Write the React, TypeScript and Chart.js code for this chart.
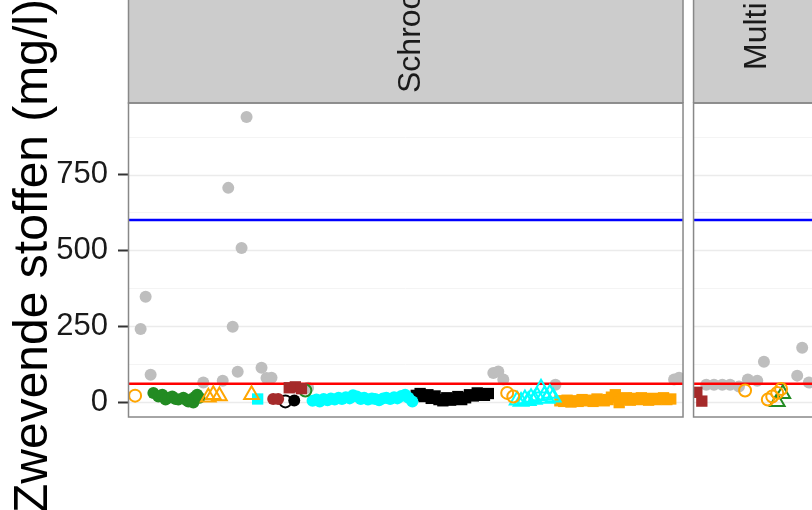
import React, { useEffect, useRef } from "react";
import { Chart, registerables } from "chart.js";
Chart.register(...registerables);

const FONT = "'Liberation Sans', Arial, Helvetica, sans-serif";

const yTitle = "Zwevende stoffen (mg/l)";
const panelNames = ["Schroot", "Multi"];
const yGridValues = [0, 125, 250, 375, 500, 625, 750, 875];
const yLabelValues = [0, 250, 500, 750];
const limitValues = [600, 60];
const limitColors = ["#0000FF", "#FF0000"];

// colours used by the groups
const GREY = "#BEBEBE";
const GREEN = "#228B22";
const ORANGE = "#FFA500";
const CYAN = "#00FFFF";
const BROWN = "#A52A2A";
const BLACK = "#000000";

// ---- Panel 1 (Schroot): position inside the panel (0-100) and value (mg/l)
const p1GreyX = [2.1, 3.0, 3.9, 13.4, 16.9, 17.9, 18.7, 19.6, 20.3, 21.2, 23.9, 24.8, 25.7, 32.3, 65.7, 66.6, 67.5, 76.9, 98.3, 99.2];
const p1GreyY = [241, 347, 90, 64, 70, 706, 248, 100, 508, 940, 113, 79, 80, 47, 96, 101, 74, 57, 74, 80];

const p1OrangeCircleX = [1.1, 68.2, 69.3];
const p1OrangeCircleY = [21, 30, 18];

const p1OrangeTriangleX = [14.3, 15.2, 16.3, 22.1];
const p1OrangeTriangleY = [16, 24, 20, 24];

const p1GreenDotX = [4.4, 5.3, 6.0, 6.6, 7.1, 7.8, 8.4, 8.9, 9.8, 10.4, 10.7, 11.3, 11.6, 12.0, 12.3, 12.7];
const p1GreenDotY = [30, 18, 24, 8, 14, 18, 10, 8, 14, 6, 2, 10, -2, 18, 24, 14];

const p1CyanSquareX = [23.2];
const p1CyanSquareY = [10];

const p1BrownDotX = [26.0, 26.9];
const p1BrownDotY = [10, 10];

const p1BrownSquareX = [28.9, 30.0, 31.1];
const p1BrownSquareY = [47, 50, 44];

const p1BlackCircleX = [28.2];
const p1BlackCircleY = [2];

const p1BlackDotX = [29.8];
const p1BlackDotY = [5];

const p1GreenCircleX = [31.8];
const p1GreenCircleY = [38];

const p1CyanDotX = [33.1, 33.8, 34.4, 35.1, 35.8, 36.4, 37.1, 37.8, 38.4, 39.1, 39.8, 40.4, 41.1, 41.8, 42.4, 43.1, 43.8, 44.4, 45.1, 45.8, 46.4, 47.1, 47.8, 48.4, 49.1, 49.8, 50.4, 51.1];
const p1CyanDotY = [4, 8, 2, 10, 6, 12, 8, 14, 10, 16, 12, 22, 18, 10, 14, 8, 12, 10, 6, 12, 14, 10, 16, 12, 20, 24, 14, 2];

const p1BlackSquareX = [51.8, 52.5, 53.2, 53.9, 54.5, 55.2, 55.9, 56.6, 57.3, 58.0, 58.7, 59.3, 60.0, 60.7, 61.4, 62.1, 62.8, 63.4, 64.1, 64.8];
const p1BlackSquareY = [22, 28, 18, 24, 12, 20, 8, 4, 14, 6, 10, 18, 8, 14, 24, 20, 30, 26, 22, 28];

const p1CyanTriangleX = [70.0, 70.7, 71.4, 72.0, 72.5, 73.1, 73.6, 74.3, 74.9, 75.4, 75.9, 76.5];
const p1CyanTriangleY = [6, 2, 10, 4, 14, 8, 20, 45, 22, 12, 28, 16];

const p1OrangeSquareX = [77.7, 78.4, 79.0, 79.7, 80.4, 81.0, 81.7, 82.4, 83.0, 83.7, 84.4, 85.0, 85.7, 86.4, 87.0, 87.7, 88.4, 89.0, 89.7, 90.4, 91.0, 91.7, 92.4, 93.0, 93.7, 94.4, 95.0, 95.7, 96.4, 97.0, 97.7];
const p1OrangeSquareY = [4, 2, 6, 0, 4, 2, 8, 4, 6, 2, 10, 6, 4, 8, 16, 24, -2, 10, 14, 6, 12, 8, 14, 10, 6, 12, 8, 10, 14, 8, 10];

// ---- Panel 2 (Multi)
const p2BrownSquareX = [0.5, 1.4];
const p2BrownSquareY = [32, 3];

const p2GreyX = [2.2, 3.6, 5.1, 6.5, 8.1, 9.7, 11.4, 12.6, 18.6, 19.5, 20.7];
const p2GreyY = [57, 57, 57, 57, 51, 74, 70, 133, 87, 179, 64];

const p2OrangeCircleX = [9.2, 13.3, 14.1, 15.0, 15.7];
const p2OrangeCircleY = [38, 8, 18, 30, 43];

const p2GreenTriangleX = [15.0, 16.0];
const p2GreenTriangleY = [1, 27];

// layout of the facets on the shared x scale
const panelOffsets = [0, 101.9];
const PANEL_SPAN = 100;
const X_MAX = 123.17;
const Y_MIN = -49.4;
const Y_MAX = 985.8;

type Shape = "circle" | "triangle" | "rect";
interface Series {
  panel: number;
  xs: number[];
  ys: number[];
  color: string;
  shape: Shape;
  filled: boolean;
  back?: boolean;
}

const seriesList: Series[] = [
  { panel: 0, xs: p1GreyX, ys: p1GreyY, color: GREY, shape: "circle", filled: true, back: true },
  { panel: 1, xs: p2GreyX, ys: p2GreyY, color: GREY, shape: "circle", filled: true, back: true },
  { panel: 0, xs: p1OrangeCircleX, ys: p1OrangeCircleY, color: ORANGE, shape: "circle", filled: false },
  { panel: 0, xs: p1OrangeTriangleX, ys: p1OrangeTriangleY, color: ORANGE, shape: "triangle", filled: false },
  { panel: 0, xs: p1GreenDotX, ys: p1GreenDotY, color: GREEN, shape: "circle", filled: true },
  { panel: 0, xs: p1CyanSquareX, ys: p1CyanSquareY, color: CYAN, shape: "rect", filled: true },
  { panel: 0, xs: p1BrownDotX, ys: p1BrownDotY, color: BROWN, shape: "circle", filled: true },
  { panel: 0, xs: p1BrownSquareX, ys: p1BrownSquareY, color: BROWN, shape: "rect", filled: true },
  { panel: 0, xs: p1BlackCircleX, ys: p1BlackCircleY, color: BLACK, shape: "circle", filled: false },
  { panel: 0, xs: p1BlackDotX, ys: p1BlackDotY, color: BLACK, shape: "circle", filled: true },
  { panel: 0, xs: p1GreenCircleX, ys: p1GreenCircleY, color: GREEN, shape: "circle", filled: false },
  { panel: 0, xs: p1CyanDotX, ys: p1CyanDotY, color: CYAN, shape: "circle", filled: true },
  { panel: 0, xs: p1BlackSquareX, ys: p1BlackSquareY, color: BLACK, shape: "rect", filled: true },
  { panel: 0, xs: p1CyanTriangleX, ys: p1CyanTriangleY, color: CYAN, shape: "triangle", filled: false },
  { panel: 0, xs: p1OrangeSquareX, ys: p1OrangeSquareY, color: ORANGE, shape: "rect", filled: true },
  { panel: 1, xs: p2BrownSquareX, ys: p2BrownSquareY, color: BROWN, shape: "rect", filled: true },
  { panel: 1, xs: p2OrangeCircleX, ys: p2OrangeCircleY, color: ORANGE, shape: "circle", filled: false },
  { panel: 1, xs: p2GreenTriangleX, ys: p2GreenTriangleY, color: GREEN, shape: "triangle", filled: false },
];

function radiusFor(s: Series) {
  if (s.shape === "triangle") return 8.5;
  if (s.shape === "rect") return 8;
  return 6;
}

function panelRects(chart: any) {
  const xs = chart.scales.x;
  const { top, bottom } = chart.chartArea;
  return panelOffsets.map((off) => ({
    left: xs.getPixelForValue(off) - 0.5,
    right: xs.getPixelForValue(off + PANEL_SPAN) - 0.5,
    top,
    bottom,
  }));
}

const facetPlugin = {
  id: "facetPanels",
  beforeDraw(chart: any) {
    const { ctx } = chart;
    const ys = chart.scales.y;
    const panels = panelRects(chart);
    ctx.save();
    ctx.fillStyle = "#FFFFFF";
    ctx.fillRect(0, 0, chart.width, chart.height);
    panels.forEach((p: any) => {
      // strip
      ctx.fillStyle = "#CCCCCC";
      ctx.fillRect(p.left, -10, p.right - p.left, p.top + 10);
      ctx.strokeStyle = "#888888";
      ctx.lineWidth = 1.5;
      ctx.strokeRect(p.left, -10, p.right - p.left, p.top + 10);
      // grid
      yGridValues.forEach((v) => {
        const py = Math.round(ys.getPixelForValue(v)) + 0.5;
        const major = yLabelValues.includes(v);
        ctx.strokeStyle = major ? "#EBEBEB" : "#F4F4F4";
        ctx.lineWidth = major ? 1.5 : 1;
        ctx.beginPath();
        ctx.moveTo(p.left, py);
        ctx.lineTo(p.right, py);
        ctx.stroke();
      });
    });
    ctx.restore();
  },
  afterDatasetsDraw(chart: any) {
    const { ctx } = chart;
    const panels = panelRects(chart);
    ctx.save();
    // blank the space between panels
    ctx.fillStyle = "#FFFFFF";
    for (let i = 0; i < panels.length - 1; i++) {
      ctx.fillRect(panels[i].right, panels[i].top, panels[i + 1].left - panels[i].right, panels[i].bottom - panels[i].top + 2);
    }
    panels.forEach((p: any, i: number) => {
      ctx.strokeStyle = "#888888";
      ctx.lineWidth = 1.5;
      ctx.strokeRect(p.left, p.top, p.right - p.left, p.bottom - p.top);
      // strip label
      ctx.save();
      const bx = i === 0 ? (p.left + p.right) / 2 + 14 : p.left + 72;
      const by = i === 0 ? 93 : 70;
      ctx.translate(bx, by);
      ctx.rotate(-Math.PI / 2);
      ctx.fillStyle = "#1A1A1A";
      ctx.font = `32px ${FONT}`;
      ctx.textAlign = "left";
      ctx.textBaseline = "alphabetic";
      ctx.fillText(panelNames[i], 0, 0);
      ctx.restore();
    });
    ctx.restore();
  },
  afterDraw(chart: any) {
    const { ctx } = chart;
    ctx.save();
    ctx.translate(47, 256);
    ctx.rotate(-Math.PI / 2);
    ctx.fillStyle = "#000000";
    ctx.font = `48px ${FONT}`;
    ctx.textAlign = "center";
    ctx.textBaseline = "alphabetic";
    ctx.fillText(yTitle, 0, 0);
    ctx.restore();
  },
};

export default function App() {
  const ref = useRef<HTMLCanvasElement | null>(null);

  useEffect(() => {
    if (!ref.current) return;
    const datasets: any[] = [];
    seriesList.forEach((s) => {
      const off = panelOffsets[s.panel];
      datasets.push({
        type: "scatter",
        data: s.xs.map((x, i) => ({ x: x + off, y: s.ys[i] })),
        pointStyle: s.shape,
        pointRadius: radiusFor(s),
        pointHoverRadius: radiusFor(s),
        backgroundColor: s.filled ? s.color : "rgba(0,0,0,0)",
        borderColor: s.color,
        borderWidth: s.filled ? 0 : 2,
        order: s.back ? 10 : 0,
      });
    });
    limitValues.forEach((v, i) => {
      datasets.push({
        type: "line",
        data: [
          { x: 0, y: v },
          { x: X_MAX, y: v },
        ],
        borderColor: limitColors[i],
        borderWidth: 2.5,
        pointRadius: 0,
        fill: false,
        order: 5,
      });
    });

    const chart = new Chart(ref.current, {
      type: "scatter",
      data: { datasets },
      plugins: [facetPlugin],
      options: {
        animation: false,
        responsive: false,
        events: [],
        layout: { autoPadding: false, padding: { top: 103, bottom: 93, left: 0, right: 0 } },
        plugins: { legend: { display: false }, tooltip: { enabled: false }, title: { display: false } },
        scales: {
          x: { type: "linear", min: 0, max: X_MAX, display: false },
          y: {
            type: "linear",
            min: Y_MIN,
            max: Y_MAX,
            afterBuildTicks: (scale: any) => {
              scale.ticks = yGridValues.map((v) => ({ value: v }));
            },
            afterFit: (scale: any) => {
              scale.width = 129;
            },
            border: { display: false },
            grid: {
              drawOnChartArea: false,
              drawTicks: true,
              tickLength: 11,
              tickWidth: 2,
              tickColor: (c: any) => (c.tick && yLabelValues.includes(c.tick.value) ? "#333333" : "rgba(0,0,0,0)"),
            },
            ticks: {
              padding: 10,
              color: "#1A1A1A",
              font: { family: FONT, size: 31 },
              callback: (v: any) => (yLabelValues.includes(Number(v)) ? String(v) : ""),
            },
          },
        },
      },
    });
    return () => chart.destroy();
  }, []);

  return (
    <div style={{ position: "fixed", left: 0, top: 0, width: 812, height: 510, background: "#fff" }}>
      <canvas ref={ref} width={812} height={510} style={{ display: "block" }} />
    </div>
  );
}
